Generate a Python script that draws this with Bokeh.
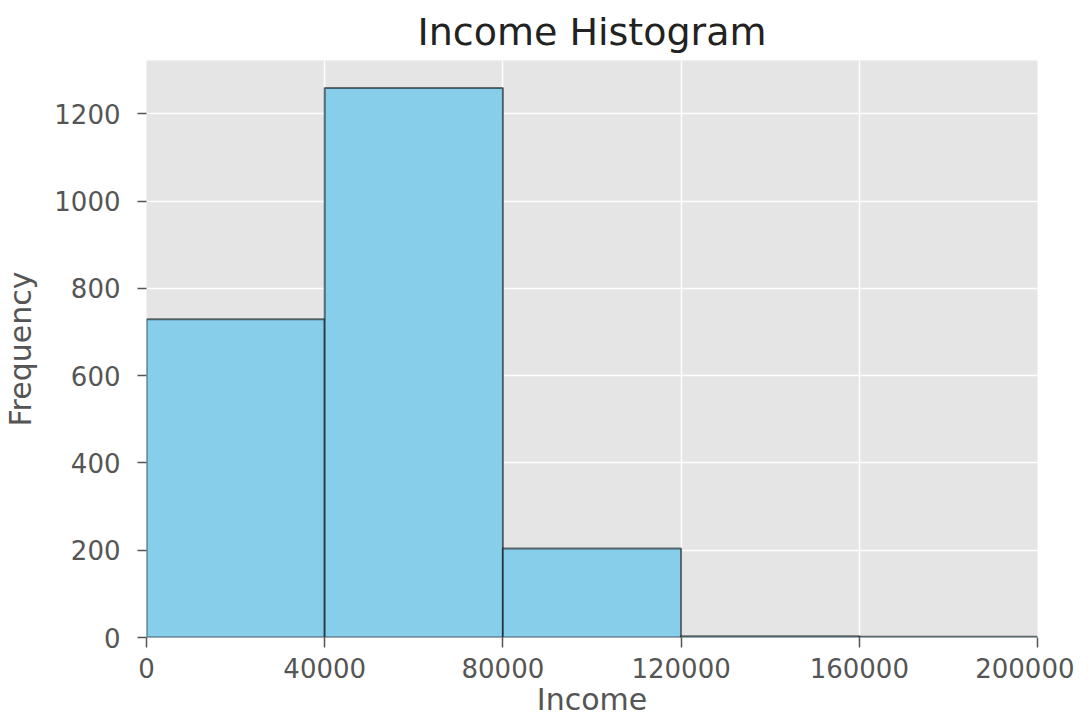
from bokeh.plotting import figure
from bokeh.models import Range1d, FixedTicker
from bokeh.embed import file_html
from bokeh.resources import INLINE

# Data
bin_edges = [0, 40000, 80000, 120000, 160000, 200000]
counts = [729, 1259, 204, 3, 2]
x_ticks = [0, 40000, 80000, 120000, 160000, 200000]
y_ticks = [0, 200, 400, 600, 800, 1000, 1200]

FONT = "DejaVu Sans"
GREY = "#555555"

p = figure(width=1074, height=719, output_backend="svg", toolbar_location=None,
           x_range=Range1d(0, 200000), y_range=Range1d(0, 1322),
           min_border_left=139, min_border_right=37, min_border_top=50, min_border_bottom=81,
           title="Income Histogram")

p.background_fill_color = "#E5E5E5"
p.outline_line_color = None

p.quad(left=bin_edges[:-1], right=bin_edges[1:], top=counts, bottom=0,
       fill_color="#87CEEB", line_color="black", line_alpha=0.55, line_width=2)

p.title.text_font = FONT
p.title.text_font_size = "38px"
p.title.text_font_style = "normal"
p.title.text_color = "#222222"
p.title.align = "center"
p.title.standoff = 14

for ax in (p.xaxis[0], p.yaxis[0]):
    ax.axis_line_color = None
    ax.major_tick_line_color = GREY
    ax.major_tick_line_width = 1.5
    ax.major_tick_in = 0
    ax.minor_tick_line_color = None
    ax.major_label_text_font = FONT
    ax.major_label_text_font_size = "26px"
    ax.major_label_text_color = GREY
    ax.axis_label_text_font = FONT
    ax.axis_label_text_font_size = "30px"
    ax.axis_label_text_font_style = "normal"
    ax.axis_label_text_color = GREY

p.xaxis.ticker = FixedTicker(ticks=x_ticks)
p.yaxis.ticker = FixedTicker(ticks=y_ticks)
p.xaxis.major_label_overrides = {t: str(t) for t in x_ticks}
p.xaxis.major_tick_out = 10
p.xaxis.major_label_standoff = 10
p.yaxis.major_tick_out = 9
p.yaxis.major_label_standoff = 17
p.xaxis.axis_label = "Income"
p.yaxis.axis_label = "Frequency"
p.xaxis.axis_label_standoff = 1
p.yaxis.axis_label_standoff = 13

p.xgrid.grid_line_color = "white"
p.ygrid.grid_line_color = "white"
p.xgrid.grid_line_width = 1.5
p.ygrid.grid_line_width = 1.5

open("out.html", "w").write(file_html(p, INLINE))
